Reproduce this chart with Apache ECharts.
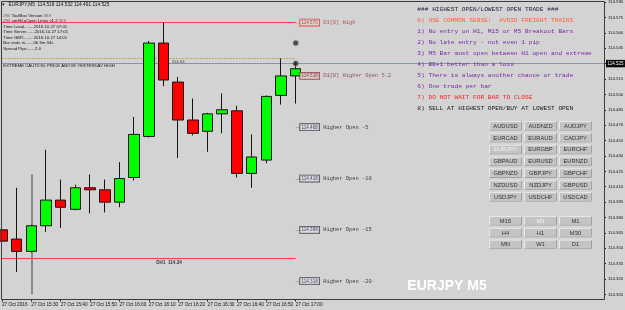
<!DOCTYPE html>
<html><head><meta charset="utf-8">
<script src="https://cdn.jsdelivr.net/npm/echarts@6/dist/echarts.min.js"></script>
<style>html,body{margin:0;padding:0;background:#d3d3d3;}#c{width:625px;height:310px;}</style>
</head><body><div id="c"></div><script>
// ---- data ----
const categories = ['15:20','15:25','15:30','15:35','15:40','15:45','15:50','15:55',
  '16:00','16:05','16:10','16:15','16:20','16:25','16:30','16:35','16:40','16:45','16:50','16:55',
  '17:00','17:05','17:10','17:15','17:20','17:25','17:30','17:35','17:40','17:45','17:50','17:55',
  '18:00','18:05','18:10','18:15','18:20','18:25','18:30','18:35','18:40','18:45'];
const xTickLabels = {'15:20':'27 Oct 2016','15:30':'27 Oct 15:30','15:40':'27 Oct 15:40','15:50':'27 Oct 15:50',
  '16:00':'27 Oct 16:00','16:10':'27 Oct 16:10','16:20':'27 Oct 16:20','16:30':'27 Oct 16:30',
  '16:40':'27 Oct 16:40','16:50':'27 Oct 16:50','17:00':'27 Oct 17:00'};
// [open, close, low, high]
const candles = [
  [114.368,114.357,114.341,114.392],
  [114.359,114.347,114.327,114.409],
  [114.347,114.372,114.346,114.373],
  [114.372,114.397,114.366,114.446],
  [114.397,114.390,114.370,114.417],
  [114.388,114.409,114.387,114.412],
  [114.409,114.407,114.384,114.422],
  [114.407,114.395,114.385,114.417],
  [114.395,114.418,114.390,114.434],
  [114.419,114.461,114.416,114.478],
  [114.459,114.550,114.458,114.552],
  [114.550,114.514,114.508,114.570],
  [114.512,114.475,114.438,114.517],
  [114.475,114.462,114.460,114.496],
  [114.464,114.481,114.444,114.482],
  [114.481,114.485,114.462,114.501],
  [114.484,114.423,114.419,114.489],
  [114.423,114.439,114.409,114.461],
  [114.436,114.498,114.433,114.499],
  [114.499,114.518,114.490,114.535],
  [114.518,114.525,114.491,114.532]
];
const yMin = 114.305, yMax = 114.590, yStep = 0.015;
const currentPrice = 114.525;
const d1High = 114.570;
const d1HigherOpen = 114.518;
const higherOpenLevels = [114.468, 114.418, 114.368, 114.318];
const higherOpenNames = ['Higher Open -5','Higher Open -10','Higher Open -15','Higher Open -20'];
const yesterdayHigh = 114.535, yesterdayHighText = '114.54';
const dh1Level = 114.340, dh1Text = 'DH1  114.34';
const separatorRange = [114.422, 114.305];
const arrowLevels = [114.550, 114.530];
const headerText = 'EURJPY,M5  114.518 114.532 114.491 114.525';
const infoLines = ['### ToolBox Version ###','### smHiLoOpen Lines v1.2 ###','Time Local........2016.10.27 07:01',
  'Time Server.......2016.10.27 17:01','Time GMT.........2016.10.27 14:01','Bar ends in.......0h 3m 34s','Spread Pips.......2.0'];
const cautionText = 'EXTREME CAUTION: PRICE ABOVE YESTERDAY HIGH';
const panelLines = ['### HIGHEST OPEN/LOWEST OPEN TRADE ###','0) USE COMMON SENSE!  AVOID FREIGHT TRAINS',
  '1) No entry on H1, M15 or M5 Breakout Bars','2) No late entry - not even 1 pip',
  '3) M5 Bar must open between H1 open and extreme','4) BE+1 better than a loss',
  '5) There is always another chance or trade','6) One trade per bar','7) DO NOT WAIT FOR BAR TO CLOSE',
  '8) SELL AT HIGHEST OPEN/BUY AT LOWEST OPEN'];
const panelColors = ['#2a1a3a','#ff5f33','#7a24a8','#7a24a8','#7a24a8','#7a24a8','#7a24a8','#7a24a8','#ff2020','#1a1a1a'];
const symbolButtons = [['AUDUSD','AUDNZD','AUDJPY'],['EURCAD','EURAUD','CADJPY'],['EURJPY','EURGBP','EURCHF'],
  ['GBPAUD','EURUSD','EURNZD'],['GBPNZD','GBPJPY','GBPCHF'],['NZDUSD','NZDJPY','GBPUSD'],['USDJPY','USDCHF','USDCAD']];
const tfButtons = [['M15','M5','M1'],['H4','H1','M30'],['MN','W1','D1']];
const selected = ['EURJPY','M5'];
const watermark = 'EURJPY M5';

// ---- graphics ----
const SANS = '"Liberation Sans", Arial, sans-serif';
const MONO = '"Liberation Mono", "DejaVu Sans Mono", monospace';
const g = [];
g.push({type:'rect', z:50, shape:{x:1.5,y:1.5,width:603,height:298}, style:{fill:'none', stroke:'#3c3c3c', lineWidth:1}, silent:true});
g.push({type:'text', z:60, x:2, y:5, style:{text:'▾', fill:'#222', fontSize:5, fontFamily:'DejaVu Sans', verticalAlign:'middle'}});
g.push({type:'text', z:60, x:8.5, y:5, style:{text:headerText, fill:'#111', fontSize:4.8, fontFamily:SANS, verticalAlign:'middle'}});
infoLines.forEach((t,i)=>g.push({type:'text', z:60, x:3.3, y:15.6+i*5.5, style:{text:t, fill:'#111', fontSize:4.3, fontFamily:SANS, verticalAlign:'middle'}}));
g.push({type:'text', z:60, x:3.3, y:65.6, style:{text:cautionText, fill:'#111', fontSize:4.3, fontFamily:SANS, verticalAlign:'middle'}});
panelLines.forEach((t,i)=>g.push({type:'text', z:60, x:417.3, y:9+i*11.07, style:{text:t, fill:panelColors[i], fontSize:6.2, fontFamily:MONO, verticalAlign:'middle'}}));
const colX = [489, 524, 559], bw = 33, bh = 9.6;
function addButtons(rows, y0, dy){
  rows.forEach((row,r)=>row.forEach((lab,c)=>{
    const x = colX[c], y = y0 + r*dy;
    g.push({type:'rect', z:60, shape:{x:x+0.5,y:y+0.5,width:bw-1,height:bh-1}, style:{fill:'#c4c4c4', stroke:'#e9e9e9', lineWidth:1}});
    g.push({type:'polyline', z:61, shape:{points:[[x+bw-0.5,y+0.5],[x+bw-0.5,y+bh-0.5],[x+0.5,y+bh-0.5]]}, style:{stroke:'#a2a2a2', lineWidth:1, fill:'none'}});
    g.push({type:'text', z:62, x:x+bw/2, y:y+bh/2+0.3, style:{text:lab, fill: selected.includes(lab)?'#f4f4f4':'#333', fontSize:5.8, fontFamily:SANS, align:'center', verticalAlign:'middle'}});
  }));
}
addButtons(symbolButtons, 121, 11.85);
addButtons(tfButtons, 216, 11.8);
g.push({type:'text', z:60, x:447, y:286.5, style:{text:watermark, fill:'#ffffff', fontSize:14, fontWeight:'bold', fontFamily:SANS, align:'center', verticalAlign:'middle'}});

// ---- level labels ----
const boxStyle = (border, bg, col)=>({backgroundColor:bg, borderColor:border, borderWidth:0.8, padding:[0.8,1.4,0.4,1.4], fontSize:4.6, color:col, fontFamily:SANS});
const rich = {
  tkr:{color:'#ff3b3b', fontSize:4.4, fontFamily:SANS},
  tkn:{color:'rgba(0,0,0,0)', fontSize:4.4, fontFamily:SANS},
  tk:{color:'#111', fontSize:4.4, fontFamily:SANS},
  bxr: boxStyle('#d03030','#e9d6d6','#8a1f1f'),
  bxm: boxStyle('#8a2a2a','#dcc7c7','#7a1f1f'),
  bx: boxStyle('#2a2a3a','#dedede','#1a1a50'),
  txr:{color:'#b03030', fontSize:5.4, fontFamily:MONO, padding:[0,0,0,4]},
  txm:{color:'#7a2a55', fontSize:5.4, fontFamily:MONO, padding:[0,0,0,4]},
  tx:{color:'#111', fontSize:5.4, fontFamily:MONO, padding:[0,0,0,4]}
};
const last = categories[candles.length-1];
const levelData = [
  {value:[last, d1High], label:{formatter:'{tkr|—}{bxr|'+d1High.toFixed(3)+'}{txr|D1[0] High}'}},
  {value:[last, d1HigherOpen], label:{formatter:'{tkn|—}{bxm|'+d1HigherOpen.toFixed(3)+'}{txm|D1[0] Higher Open 5.2}'}}
];
higherOpenLevels.forEach((v,i)=>levelData.push({value:[last, v], label:{formatter:'{tk|—}{bx|'+v.toFixed(3)+'}{tx|'+higherOpenNames[i]+'}'}}));

const seg = (a,b,v,ls)=>[{coord:[a,v], lineStyle:ls},{coord:[b,v], lineStyle:ls}];
const option = {
  animation:false,
  backgroundColor:'#d3d3d3',
  grid:{left:2, top:2, width:602, height:292.5, containLabel:false, outerBoundsMode:'none'},
  xAxis:{type:'category', data:categories, boundaryGap:false, offset:4.5,
    axisLine:{show:false},
    axisTick:{show:true, length:2.5, interval:(i,v)=>v in xTickLabels, lineStyle:{color:'#222'}},
    axisLabel:{interval:(i,v)=>v in xTickLabels, formatter:(v)=>xTickLabels[v]||'', align:'left', fontSize:4.7, color:'#111', margin:3, fontFamily:SANS},
    splitLine:{show:false}},
  yAxis:{type:'value', position:'right', min:yMin, max:yMax, interval:yStep, scale:true,
    axisLine:{show:false},
    axisTick:{show:true, length:2, lineStyle:{color:'#222'}},
    axisLabel:{formatter:(v)=>v.toFixed(3), fontSize:4.3, color:'#111', margin:4, fontFamily:SANS, showMinLabel:true, showMaxLabel:true},
    splitLine:{show:false}},
  graphic:g,
  series:[
    {type:'candlestick', data:candles, barWidth:11, z:3,
      itemStyle:{color:'#00ff00', color0:'#ff0000', borderColor:'#151515', borderColor0:'#151515', borderWidth:1},
      markLine:{silent:true, symbol:['none','none'], animation:false, label:{show:false}, z:2,
        data:[
          {yAxis:currentPrice, lineStyle:{color:'#8795a5', width:1, type:'solid'},
            label:{show:true, position:'end', distance:2, formatter:currentPrice.toFixed(3), backgroundColor:'#000', color:'#fff', fontSize:4.5, padding:[1.4,1.5,1,1.5], fontFamily:SANS}},
          seg(categories[0], last, d1High, {color:'#ff3b3b', width:1, type:'solid'}),
          seg(categories[0], last, yesterdayHigh, {color:'#aaa230', width:1, type:[1.5,1.5]}),
          seg(categories[0], last, dh1Level, {color:'#ff3b3b', width:1, type:'solid'}),
          [{coord:[categories[2], separatorRange[0]], lineStyle:{color:'#8a8a8a', width:2, type:'solid'}},
           {coord:[categories[2], separatorRange[1]], lineStyle:{color:'#8a8a8a', width:2, type:'solid'}}]
        ]}},
    {type:'scatter', data:levelData, symbolSize:0.1, itemStyle:{color:'rgba(0,0,0,0)'}, silent:true, z:5,
      label:{show:true, position:'right', distance:0, rich:rich}},
    {type:'scatter', silent:true, z:5, symbolSize:0.1, itemStyle:{color:'rgba(0,0,0,0)'},
      data:[
        {value:[categories[12], yesterdayHigh], label:{show:true, formatter:yesterdayHighText, position:'bottom', distance:1, offset:[0,0], fontSize:4.4, color:'#111', fontFamily:SANS}},
        {value:[categories[11], dh1Level], label:{show:true, formatter:dh1Text, position:'bottom', distance:1.2, offset:[5.5,0], fontSize:4.6, color:'#111', fontWeight:'bold', fontFamily:SANS}}
      ]},
    {type:'scatter', silent:true, z:6, symbol:'circle', symbolSize:5.5,
      itemStyle:{color:'#2b2b2b', borderColor:'#9a9a9a', borderWidth:0.8},
      data:arrowLevels.map(v=>[last, v])}
  ]
};
const chart = echarts.init(document.getElementById('c'));
chart.setOption(option);
</script></body></html>
